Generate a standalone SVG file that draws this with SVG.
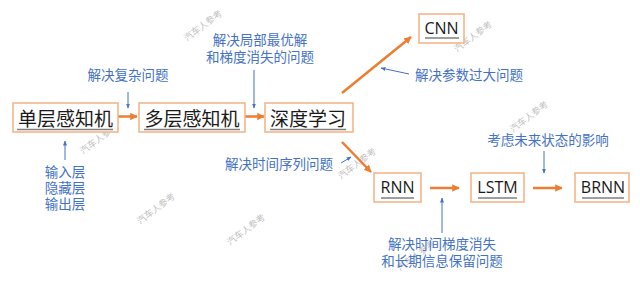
<svg xmlns="http://www.w3.org/2000/svg" width="640" height="286" viewBox="0 0 640 286">
<defs>
<style>
.box{fill:#fff;stroke:#F4B183;stroke-width:1.5}
.lbl{font-family:"Noto Sans CJK SC","Noto Sans",sans-serif;font-size:19px;fill:#1a1a1a;text-anchor:middle}
.lat{font-family:"Open Sans","Liberation Sans",sans-serif;font-size:16px;fill:#1a1a1a;text-anchor:middle}
.ul{stroke:#7f7f7f;stroke-width:1.5}
.note{font-family:"Noto Sans CJK SC",sans-serif;font-size:13.5px;fill:#4472C4;text-anchor:middle}
.oa{stroke:#ED7D31;stroke-width:2.5;fill:none;marker-end:url(#oh)}
.ba{stroke:#4472C4;stroke-width:1;fill:none;marker-end:url(#bh)}
.wm{font-family:"Noto Sans CJK SC",sans-serif;font-size:9px;fill:#c0c0c0;text-anchor:middle}
</style>
<marker id="oh" viewBox="0 0 10 10" refX="9" refY="5" markerWidth="3" markerHeight="3" orient="auto" markerUnits="strokeWidth">
<path d="M0,0 L10,5 L0,10 z" fill="#ED7D31"/>
</marker>
<marker id="bh" viewBox="0 0 10 10" refX="9" refY="5" markerWidth="5" markerHeight="5" orient="auto" markerUnits="strokeWidth">
<path d="M0,1 L10,5 L0,9 z" fill="#4472C4"/>
</marker>
</defs>
<rect width="640" height="286" fill="#fff"/>

<g id="watermarks">
<text class="wm" transform="translate(205,28) rotate(-37)">汽车人参考</text>
<text class="wm" transform="translate(101,141) rotate(-37)">汽车人参考</text>
<text class="wm" transform="translate(475,39) rotate(-37)">汽车人参考</text>
<text class="wm" transform="translate(531,119) rotate(-37)">汽车人参考</text>
<text class="wm" transform="translate(158,211) rotate(-37)">汽车人参考</text>
<text class="wm" transform="translate(248,232) rotate(-37)">汽车人参考</text>
<text class="wm" transform="translate(359,166) rotate(-37)">汽车人参考</text>
<text class="wm" transform="translate(418,258) rotate(-37)">汽车人参考</text>
</g>

<g id="connectors">
<line class="oa" x1="118" y1="116.5" x2="137" y2="116.5"/>
<line class="oa" x1="245" y1="116.5" x2="264" y2="116.5"/>
<line class="oa" x1="342" y1="93" x2="411" y2="37"/>
<line class="oa" x1="342" y1="142" x2="371" y2="172"/>
<line class="oa" x1="430" y1="188" x2="459" y2="188"/>
<line class="oa" x1="533" y1="188" x2="562" y2="188"/>
<line class="ba" x1="128" y1="92" x2="128" y2="108"/>
<line class="ba" x1="254" y1="70" x2="254" y2="108"/>
<line class="ba" x1="65" y1="160" x2="65" y2="141"/>
<line class="ba" x1="409" y1="74" x2="381" y2="68"/>
<line class="ba" x1="341" y1="163" x2="351" y2="157"/>
<line class="ba" x1="544" y1="151" x2="544" y2="173"/>
<line class="ba" x1="442" y1="233" x2="442" y2="198"/>
</g>

<g id="node-slp">
<rect class="box" x="13" y="103" width="105" height="29"/>
<text class="lbl" x="65.5" y="126">单层感知机</text>
<line class="ul" x1="17" y1="129.5" x2="113" y2="129.5"/>
</g>
<g id="node-mlp">
<rect class="box" x="139" y="103" width="106" height="29"/>
<text class="lbl" x="192" y="126">多层感知机</text>
<line class="ul" x1="144" y1="129.5" x2="240" y2="129.5"/>
</g>
<g id="node-dl">
<rect class="box" x="265" y="103" width="88" height="29"/>
<text class="lbl" x="308" y="126">深度学习</text>
<line class="ul" x1="270" y1="129.5" x2="346" y2="129.5"/>
</g>
<g id="node-cnn">
<rect class="box" x="419" y="14" width="45" height="29"/>
<text class="lat" x="441.5" y="34">CNN</text>
<line class="ul" x1="425" y1="38" x2="459" y2="38"/>
</g>
<g id="node-rnn">
<rect class="box" x="374" y="173" width="47" height="29"/>
<text class="lat" x="397.5" y="193">RNN</text>
<line class="ul" x1="381" y1="198" x2="414" y2="198"/>
</g>
<g id="node-lstm">
<rect class="box" x="471" y="173" width="53" height="29"/>
<text class="lat" x="497.5" y="193">LSTM</text>
<line class="ul" x1="478" y1="198" x2="517" y2="198"/>
</g>
<g id="node-brnn">
<rect class="box" x="575" y="173" width="54" height="29"/>
<text class="lat" x="603" y="193">BRNN</text>
<line class="ul" x1="582" y1="198" x2="624" y2="198"/>
</g>

<g id="notes">
<text class="note" x="128" y="80">解决复杂问题</text>
<text class="note" x="260" y="45">解决局部最优解<tspan x="260" dy="17">和梯度消失的问题</tspan></text>
<text class="note" x="65" y="177">输入层<tspan x="65" dy="16">隐藏层</tspan><tspan x="65" dy="16">输出层</tspan></text>
<text class="note" x="469" y="80">解决参数过大问题</text>
<text class="note" x="279" y="169">解决时间序列问题</text>
<text class="note" x="548" y="145">考虑未来状态的影响</text>
<text class="note" x="442" y="249">解决时间梯度消失<tspan x="442" dy="17">和长期信息保留问题</tspan></text>
</g>
</svg>
